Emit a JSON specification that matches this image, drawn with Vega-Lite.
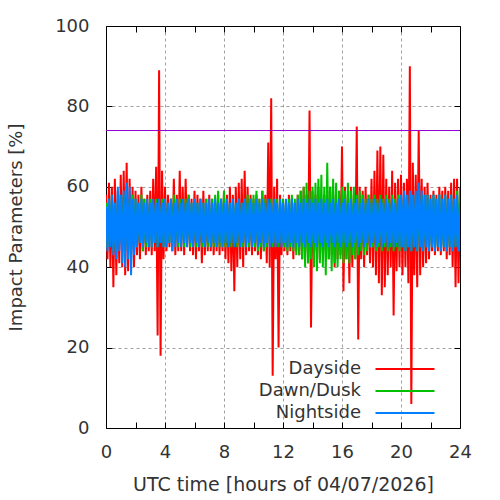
{
  "$schema": "https://vega.github.io/schema/vega-lite/v6.json",
  "width": 354,
  "height": 402,
  "autosize": {"type": "none"},
  "padding": {"left": 106, "top": 26, "right": 40, "bottom": 72},
  "background": "white",
  "data": {"values": [
    {"t":0.0,"D":58,"W":56,"N":55},{"t":0.1,"D":42,"W":45,"N":44},{"t":0.2,"D":61,"W":57,"N":57},{"t":0.3,"D":40,"W":46,"N":45},{"t":0.4,"D":60,"W":58,"N":58},{"t":0.5,"D":35,"W":44,"N":43},{"t":0.6,"D":62,"W":56,"N":56},{"t":0.7,"D":38,"W":45,"N":42},{"t":0.8,"D":59,"W":57,"N":60},{"t":0.9,"D":41,"W":46,"N":44},
    {"t":1.0,"D":63,"W":57,"N":58},{"t":1.1,"D":40,"W":45,"N":41},{"t":1.2,"D":64,"W":58,"N":59},{"t":1.3,"D":38,"W":44,"N":40},{"t":1.4,"D":66,"W":56,"N":61},{"t":1.5,"D":39,"W":46,"N":42},{"t":1.6,"D":62,"W":57,"N":60},{"t":1.7,"D":42,"W":45,"N":38},{"t":1.8,"D":60,"W":58,"N":57},{"t":1.9,"D":40,"W":44,"N":43},
    {"t":2.0,"D":59,"W":57,"N":57},{"t":2.1,"D":43,"W":45,"N":45},{"t":2.2,"D":58,"W":56,"N":56},{"t":2.3,"D":42,"W":46,"N":46},{"t":2.4,"D":60,"W":58,"N":57},{"t":2.5,"D":44,"W":44,"N":45},{"t":2.6,"D":57,"W":57,"N":56},{"t":2.7,"D":43,"W":45,"N":46},{"t":2.8,"D":58,"W":56,"N":57},{"t":2.9,"D":44,"W":46,"N":45},
    {"t":3.0,"D":59,"W":57,"N":56},{"t":3.1,"D":43,"W":45,"N":45},{"t":3.2,"D":62,"W":56,"N":57},{"t":3.3,"D":44,"W":46,"N":46},{"t":3.4,"D":65,"W":57,"N":56},{"t":3.5,"D":23,"W":45,"N":45},{"t":3.6,"D":89,"W":56,"N":57},{"t":3.7,"D":18,"W":46,"N":46},{"t":3.8,"D":64,"W":57,"N":56},{"t":3.9,"D":42,"W":45,"N":45},
    {"t":4.0,"D":60,"W":57,"N":57},{"t":4.1,"D":44,"W":45,"N":45},{"t":4.2,"D":58,"W":56,"N":56},{"t":4.3,"D":45,"W":46,"N":46},{"t":4.4,"D":57,"W":57,"N":57},{"t":4.5,"D":44,"W":45,"N":44},{"t":4.6,"D":62,"W":58,"N":56},{"t":4.7,"D":43,"W":46,"N":45},{"t":4.8,"D":58,"W":56,"N":57},{"t":4.9,"D":44,"W":45,"N":46},
    {"t":5.0,"D":64,"W":57,"N":56},{"t":5.1,"D":44,"W":46,"N":45},{"t":5.2,"D":60,"W":56,"N":57},{"t":5.3,"D":43,"W":45,"N":46},{"t":5.4,"D":62,"W":57,"N":56},{"t":5.5,"D":45,"W":46,"N":45},{"t":5.6,"D":58,"W":58,"N":57},{"t":5.7,"D":44,"W":45,"N":46},{"t":5.8,"D":57,"W":56,"N":56},{"t":5.9,"D":43,"W":46,"N":45},
    {"t":6.0,"D":59,"W":57,"N":57},{"t":6.1,"D":42,"W":45,"N":46},{"t":6.2,"D":58,"W":56,"N":56},{"t":6.3,"D":44,"W":46,"N":45},{"t":6.4,"D":57,"W":57,"N":57},{"t":6.5,"D":41,"W":45,"N":46},{"t":6.6,"D":59,"W":56,"N":56},{"t":6.7,"D":43,"W":46,"N":45},{"t":6.8,"D":57,"W":57,"N":56},{"t":6.9,"D":44,"W":45,"N":46},
    {"t":7.0,"D":58,"W":56,"N":57},{"t":7.1,"D":44,"W":46,"N":45},{"t":7.2,"D":57,"W":57,"N":56},{"t":7.3,"D":43,"W":45,"N":46},{"t":7.4,"D":56,"W":58,"N":57},{"t":7.5,"D":44,"W":46,"N":45},{"t":7.6,"D":58,"W":59,"N":56},{"t":7.7,"D":43,"W":45,"N":46},{"t":7.8,"D":57,"W":57,"N":57},{"t":7.9,"D":44,"W":46,"N":45},
    {"t":8.0,"D":59,"W":59,"N":56},{"t":8.1,"D":42,"W":45,"N":46},{"t":8.2,"D":58,"W":57,"N":57},{"t":8.3,"D":41,"W":46,"N":45},{"t":8.4,"D":60,"W":56,"N":56},{"t":8.5,"D":39,"W":45,"N":46},{"t":8.6,"D":58,"W":57,"N":57},{"t":8.7,"D":34,"W":46,"N":45},{"t":8.8,"D":60,"W":56,"N":56},{"t":8.9,"D":40,"W":45,"N":46},
    {"t":9.0,"D":61,"W":57,"N":57},{"t":9.1,"D":42,"W":46,"N":45},{"t":9.2,"D":62,"W":56,"N":56},{"t":9.3,"D":40,"W":45,"N":46},{"t":9.4,"D":64,"W":57,"N":57},{"t":9.5,"D":43,"W":46,"N":45},{"t":9.6,"D":60,"W":58,"N":56},{"t":9.7,"D":44,"W":45,"N":46},{"t":9.8,"D":58,"W":57,"N":57},{"t":9.9,"D":43,"W":46,"N":45},
    {"t":10.0,"D":57,"W":58,"N":56},{"t":10.1,"D":44,"W":45,"N":46},{"t":10.2,"D":58,"W":59,"N":57},{"t":10.3,"D":43,"W":44,"N":45},{"t":10.4,"D":57,"W":57,"N":56},{"t":10.5,"D":42,"W":45,"N":46},{"t":10.6,"D":59,"W":59,"N":57},{"t":10.7,"D":44,"W":44,"N":45},{"t":10.8,"D":58,"W":57,"N":56},{"t":10.9,"D":41,"W":45,"N":46},
    {"t":11.0,"D":71,"W":56,"N":57},{"t":11.1,"D":40,"W":46,"N":45},{"t":11.2,"D":82,"W":57,"N":56},{"t":11.3,"D":13,"W":45,"N":46},{"t":11.4,"D":60,"W":56,"N":57},{"t":11.5,"D":42,"W":46,"N":45},{"t":11.6,"D":62,"W":57,"N":56},{"t":11.7,"D":20,"W":45,"N":46},{"t":11.8,"D":58,"W":56,"N":57},{"t":11.9,"D":43,"W":46,"N":45},
    {"t":12.0,"D":57,"W":57,"N":56},{"t":12.1,"D":44,"W":45,"N":46},{"t":12.2,"D":56,"W":56,"N":57},{"t":12.3,"D":43,"W":44,"N":45},{"t":12.4,"D":58,"W":57,"N":56},{"t":12.5,"D":44,"W":45,"N":46},{"t":12.6,"D":57,"W":58,"N":57},{"t":12.7,"D":42,"W":44,"N":45},{"t":12.8,"D":56,"W":57,"N":56},{"t":12.9,"D":44,"W":43,"N":46},
    {"t":13.0,"D":58,"W":58,"N":57},{"t":13.1,"D":43,"W":43,"N":45},{"t":13.2,"D":59,"W":59,"N":56},{"t":13.3,"D":42,"W":42,"N":46},{"t":13.4,"D":60,"W":60,"N":57},{"t":13.5,"D":44,"W":40,"N":45},{"t":13.6,"D":58,"W":61,"N":56},{"t":13.7,"D":41,"W":41,"N":46},{"t":13.8,"D":79,"W":59,"N":57},{"t":13.9,"D":25,"W":42,"N":45},
    {"t":14.0,"D":59,"W":60,"N":56},{"t":14.1,"D":43,"W":40,"N":46},{"t":14.2,"D":58,"W":61,"N":57},{"t":14.3,"D":44,"W":39,"N":45},{"t":14.4,"D":60,"W":62,"N":56},{"t":14.5,"D":42,"W":41,"N":46},{"t":14.6,"D":57,"W":63,"N":57},{"t":14.7,"D":43,"W":40,"N":45},{"t":14.8,"D":58,"W":60,"N":56},{"t":14.9,"D":44,"W":38,"N":46},
    {"t":15.0,"D":59,"W":66,"N":57},{"t":15.1,"D":42,"W":42,"N":45},{"t":15.2,"D":60,"W":60,"N":56},{"t":15.3,"D":43,"W":39,"N":46},{"t":15.4,"D":58,"W":62,"N":57},{"t":15.5,"D":40,"W":41,"N":45},{"t":15.6,"D":57,"W":61,"N":56},{"t":15.7,"D":42,"W":40,"N":46},{"t":15.8,"D":59,"W":59,"N":57},{"t":15.9,"D":43,"W":42,"N":45},
    {"t":16.0,"D":70,"W":60,"N":56},{"t":16.1,"D":34,"W":41,"N":46},{"t":16.2,"D":60,"W":59,"N":57},{"t":16.3,"D":42,"W":42,"N":45},{"t":16.4,"D":58,"W":61,"N":56},{"t":16.5,"D":36,"W":41,"N":46},{"t":16.6,"D":60,"W":59,"N":57},{"t":16.7,"D":40,"W":43,"N":45},{"t":16.8,"D":58,"W":60,"N":56},{"t":16.9,"D":42,"W":42,"N":46},
    {"t":17.0,"D":75,"W":58,"N":57},{"t":17.1,"D":22,"W":43,"N":45},{"t":17.2,"D":60,"W":59,"N":56},{"t":17.3,"D":42,"W":44,"N":46},{"t":17.4,"D":59,"W":58,"N":57},{"t":17.5,"D":40,"W":43,"N":45},{"t":17.6,"D":60,"W":57,"N":56},{"t":17.7,"D":43,"W":44,"N":46},{"t":17.8,"D":58,"W":58,"N":57},{"t":17.9,"D":41,"W":45,"N":45},
    {"t":18.0,"D":62,"W":57,"N":56},{"t":18.1,"D":40,"W":45,"N":46},{"t":18.2,"D":64,"W":58,"N":57},{"t":18.3,"D":38,"W":44,"N":45},{"t":18.4,"D":69,"W":57,"N":56},{"t":18.5,"D":36,"W":45,"N":46},{"t":18.6,"D":70,"W":58,"N":57},{"t":18.7,"D":33,"W":44,"N":45},{"t":18.8,"D":68,"W":57,"N":56},{"t":18.9,"D":35,"W":45,"N":46},
    {"t":19.0,"D":62,"W":58,"N":57},{"t":19.1,"D":38,"W":44,"N":45},{"t":19.2,"D":60,"W":57,"N":56},{"t":19.3,"D":40,"W":45,"N":46},{"t":19.4,"D":64,"W":58,"N":57},{"t":19.5,"D":28,"W":44,"N":45},{"t":19.6,"D":61,"W":57,"N":56},{"t":19.7,"D":39,"W":45,"N":46},{"t":19.8,"D":62,"W":58,"N":57},{"t":19.9,"D":40,"W":44,"N":45},
    {"t":20.0,"D":63,"W":57,"N":58},{"t":20.1,"D":38,"W":45,"N":45},{"t":20.2,"D":61,"W":58,"N":59},{"t":20.3,"D":40,"W":44,"N":44},{"t":20.4,"D":62,"W":57,"N":58},{"t":20.5,"D":36,"W":45,"N":45},{"t":20.6,"D":90,"W":58,"N":59},{"t":20.7,"D":6,"W":44,"N":44},{"t":20.8,"D":66,"W":57,"N":58},{"t":20.9,"D":38,"W":45,"N":45},
    {"t":21.0,"D":63,"W":58,"N":59},{"t":21.1,"D":35,"W":44,"N":44},{"t":21.2,"D":74,"W":57,"N":61},{"t":21.3,"D":38,"W":45,"N":45},{"t":21.4,"D":62,"W":58,"N":59},{"t":21.5,"D":40,"W":44,"N":44},{"t":21.6,"D":60,"W":57,"N":58},{"t":21.7,"D":41,"W":45,"N":45},{"t":21.8,"D":61,"W":58,"N":58},{"t":21.9,"D":42,"W":44,"N":44},
    {"t":22.0,"D":58,"W":57,"N":57},{"t":22.1,"D":44,"W":45,"N":45},{"t":22.2,"D":59,"W":58,"N":58},{"t":22.3,"D":43,"W":44,"N":44},{"t":22.4,"D":58,"W":57,"N":57},{"t":22.5,"D":44,"W":45,"N":45},{"t":22.6,"D":60,"W":58,"N":58},{"t":22.7,"D":43,"W":44,"N":44},{"t":22.8,"D":59,"W":57,"N":57},{"t":22.9,"D":44,"W":45,"N":45},
    {"t":23.0,"D":60,"W":58,"N":58},{"t":23.1,"D":42,"W":44,"N":44},{"t":23.2,"D":59,"W":57,"N":57},{"t":23.3,"D":43,"W":45,"N":45},{"t":23.4,"D":61,"W":58,"N":58},{"t":23.5,"D":40,"W":44,"N":44},{"t":23.6,"D":62,"W":57,"N":57},{"t":23.7,"D":35,"W":45,"N":45},{"t":23.8,"D":62,"W":59,"N":58},{"t":23.9,"D":36,"W":44,"N":44},
    {"t":24.0,"D":58,"W":60,"N":56}
  ]},
  "layer": [
    {
      "mark": {"type": "line", "strokeWidth": 2, "clip": true},
      "encoding": {
        "x": {"field": "t", "type": "quantitative",
          "scale": {"domain": [0, 24], "nice": false, "zero": false},
          "axis": {"orient": "bottom", "values": [0,2,4,6,8,10,12,14,16,18,20,22,24],
            "labelExpr": "datum.value % 4 == 0 ? datum.label : ''",
            "grid": true, "gridDash": [3, 3], "gridColor": "#a0a0a0",
            "gridOpacity": {"condition": {"test": "datum.value % 4 != 0 || datum.value == 0 || datum.value == 24", "value": 0}, "value": 1},
            "tickSize": -6, "labelPadding": 21, "labelFlush": false,
            "title": "UTC time [hours of 04/07/2026]", "titlePadding": 14, "titleFontSize": 19}},
        "y": {"field": "D", "type": "quantitative",
          "scale": {"domain": [0, 100], "nice": false},
          "axis": {"orient": "left", "values": [0,20,40,60,80,100],
            "grid": true, "gridDash": [3, 3], "gridColor": "#a0a0a0",
            "gridOpacity": {"condition": {"test": "datum.value == 0 || datum.value == 100", "value": 0}, "value": 1},
            "tickSize": -6, "labelPadding": 23,
            "title": "Impact Parameters [%]", "titlePadding": 29}},
        "color": {"datum": "Dayside", "type": "nominal",
          "scale": {"domain": ["Dayside", "Dawn/Dusk", "Nightside"], "range": ["#ff0000", "#00c000", "#0080ff"]},
          "legend": {"orient": "none", "legendX": 288, "legendY": 332, "title": null,
            "symbolType": "M-2.95,0H2.95", "symbolSize": 400, "symbolStrokeWidth": 2,
            "labelAlign": "right", "labelOffset": -55, "labelFontSize": 18,
            "labelFont": "DejaVu Sans", "labelColor": "#333333",
            "rowPadding": 2, "padding": 0}}
      }
    },
    {
      "mark": {"type": "line", "strokeWidth": 2, "clip": true},
      "encoding": {
        "x": {"field": "t", "type": "quantitative", "axis": null},
        "y": {"field": "W", "type": "quantitative", "axis": null},
        "color": {"datum": "Dawn/Dusk", "type": "nominal"}
      }
    },
    {
      "mark": {"type": "line", "strokeWidth": 2, "clip": true},
      "encoding": {
        "x": {"field": "t", "type": "quantitative", "axis": null},
        "y": {"field": "N", "type": "quantitative", "axis": null},
        "color": {"datum": "Nightside", "type": "nominal"}
      }
    },
    {
      "data": {"values": [{"t0": 0, "t1": 24, "v": 74}]},
      "mark": {"type": "rule", "color": "#9400d3", "strokeWidth": 1},
      "encoding": {
        "x": {"field": "t0", "type": "quantitative",
          "axis": {"orient": "top", "values": [0,2,4,6,8,10,12,14,16,18,20,22,24], "labels": false, "grid": false, "tickSize": -6, "title": null}},
        "x2": {"field": "t1"},
        "y": {"field": "v", "type": "quantitative",
          "axis": {"orient": "right", "values": [20,40,60,80], "labels": false, "grid": false, "tickSize": -6, "title": null}}
      }
    }
  ],
  "resolve": {"axis": {"x": "independent", "y": "independent"}},
  "config": {
    "view": {"stroke": "black", "strokeWidth": 1},
    "axis": {"labelFont": "DejaVu Sans", "titleFont": "DejaVu Sans", "labelFontSize": 18, "titleFontSize": 18,
      "labelColor": "#333333", "titleColor": "#333333", "titleFontWeight": "normal",
      "tickColor": "black", "domain": false}
  }
}
